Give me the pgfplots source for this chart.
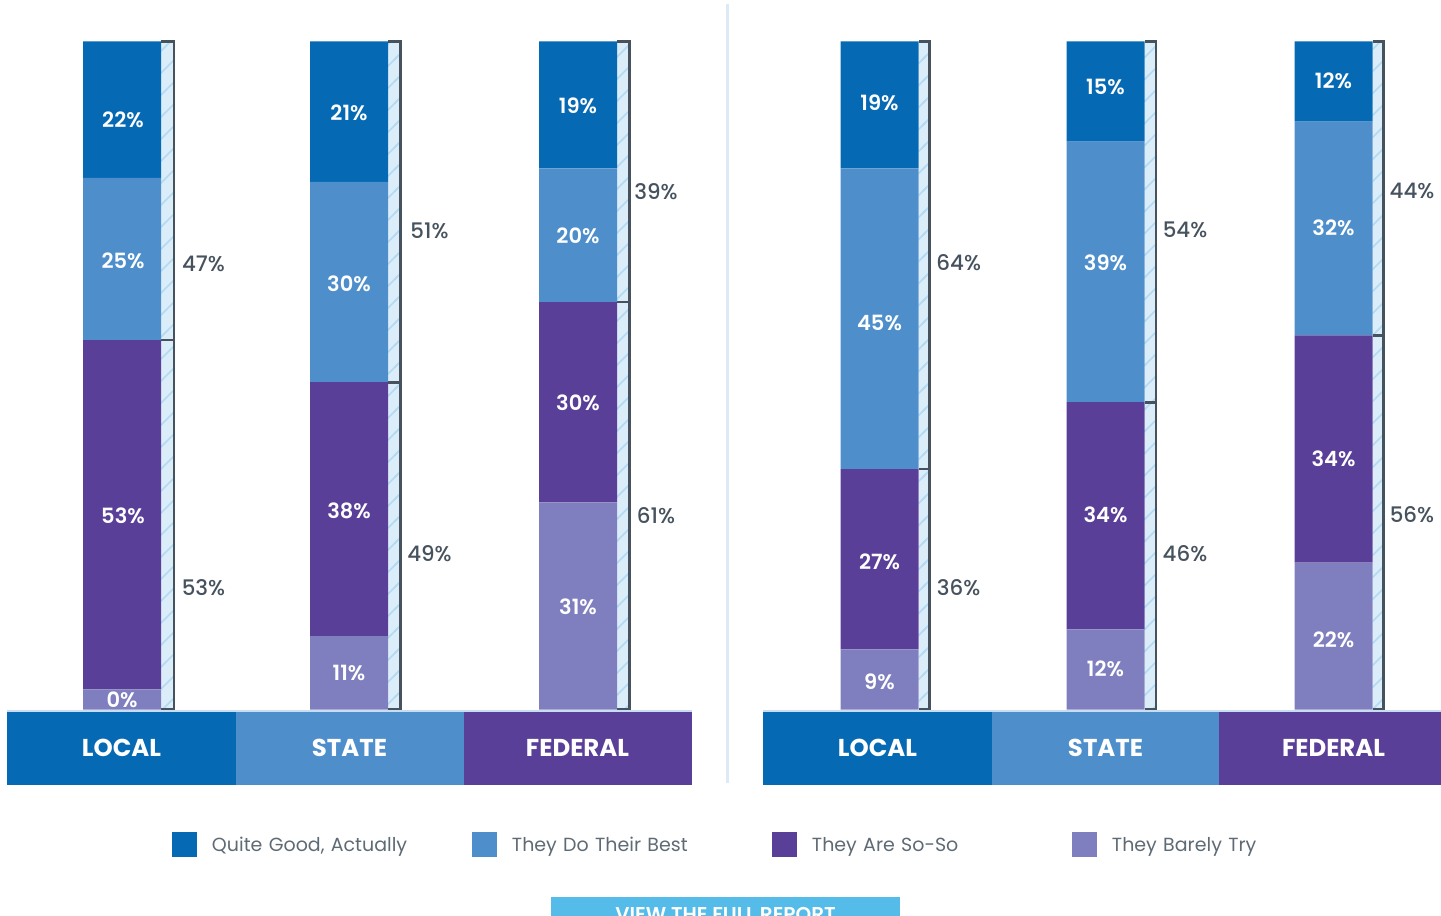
\documentclass[border=0pt]{standalone}
\usepackage{pgfplots}
\pgfplotsset{compat=1.18}
\usepackage{pgfplotstable}
\usepackage{fontspec}
\setmainfont{Poppins}
\newfontfamily\pmed{Poppins Medium}
\newfontfamily\psemi{Poppins SemiBold}
\usetikzlibrary{patterns}

\definecolor{cQG}{HTML}{0569B3}
\definecolor{cBest}{HTML}{4E8FCB}
\definecolor{cSoSo}{HTML}{5A3F98}
\definecolor{cBarely}{HTML}{7F7FBF}
\definecolor{stripbg}{HTML}{DCEDFA}
\definecolor{hatchc}{HTML}{B3DAF4}
\definecolor{slate}{HTML}{46525D}
\definecolor{labgray}{HTML}{46525D}
\definecolor{leggray}{HTML}{5E6A74}
\definecolor{sepblue}{HTML}{DCEAF8}
\definecolor{btn}{HTML}{55BBE8}
\definecolor{boxline}{HTML}{C6DDF2}

\pgfdeclarepatternformonly{hatchlines}{\pgfpoint{-1pt}{-1pt}}{\pgfpoint{12pt}{12pt}}{\pgfpoint{11pt}{11pt}}{%
  \pgfsetlinewidth{0.8pt}%
  \pgfpathmoveto{\pgfpoint{-1pt}{-1pt}}%
  \pgfpathlineto{\pgfpoint{12pt}{12pt}}%
  \pgfusepath{stroke}}

% bar centre (pixels), then drawn shares in percent, bottom to top
\pgfplotstableread{
x      qg   best soso barely
122    20.4 24.3 52.3 3.0
349    21   30   38   11
578    19   20   30   31
879.5  19   45   27   9
1105.5 15   39   34   12
1333.5 12   32   34   22
}\survey

\begin{document}
\begin{tikzpicture}
\pgfplotsset{base/.style={at={(0,0)}, anchor=north west, scale only axis,
  width=720.5pt, height=458pt, xmin=0, xmax=1441, ymin=-30.91, ymax=106.21,
  hide axis, clip=false}}

% strips and brackets
\begin{axis}[base]
  \foreach \xl/\xr in {161/174, 388/400.8, 617/629.4, 918.5/929.2, 1144.5/1156, 1372.5/1383.8}{
    \edef\tmp{\noexpand\fill[stripbg, postaction={pattern=hatchlines, pattern color=hatchc}]
      (axis cs:\xl,0) rectangle (axis cs:\xr,100);}\tmp
  }
  \addplot[slate, line width=1.35pt, unbounded coords=jump, line join=miter] coordinates {
    (161,100)(174,100)(174,0)(161,0)(161,nan)(161,55.3)(174,55.3)(174,nan)
    (388,100)(400.8,100)(400.8,0)(388,0)(388,nan)(388,49)(400.8,49)(400.8,nan)
    (617,100)(629.4,100)(629.4,0)(617,0)(617,nan)(617,61)(629.4,61)(629.4,nan)
    (918.5,100)(929.2,100)(929.2,0)(918.5,0)(918.5,nan)(918.5,36)(929.2,36)(929.2,nan)
    (1144.5,100)(1156,100)(1156,0)(1144.5,0)(1144.5,nan)(1144.5,46)(1156,46)(1156,nan)
    (1372.5,100)(1383.8,100)(1383.8,0)(1372.5,0)(1372.5,nan)(1372.5,56)(1383.8,56)
  };
\end{axis}

% stacked bars and legend
\begin{axis}[base, ybar stacked, bar width=39pt,
  legend columns=4, reverse legend, legend cell align=left,
  legend image code/.code={\fill[#1] (0pt,-6.25pt) rectangle (12.5pt,6.25pt);},
  legend style={at={(axis description cs:0.11936,0.07806)}, anchor=west,
    draw=none, fill=none, inner sep=0pt, outer sep=0pt, column sep=0pt,
    font=\fontsize{9.5}{12}\selectfont, text=leggray,
    nodes={text height=6.7pt, text depth=0pt, inner ysep=0pt, inner xsep=7.5pt,
      text width=122.5pt, align=left}}]
  \addplot[fill=cBarely, draw=none] table[x=x, y=barely]{\survey};
  \addlegendentry{They Barely Try}
  \addplot[fill=cSoSo, draw=none] table[x=x, y=soso]{\survey};
  \addlegendentry{They Are So-So}
  \addplot[fill=cBest, draw=none] table[x=x, y=best]{\survey};
  \addlegendentry{They Do Their Best}
  \addplot[fill=cQG, draw=none] table[x=x, y=qg]{\survey};
  \addlegendentry{Quite Good, Actually}
\end{axis}

\begin{scope}[x=0.5pt, y=-0.5pt]
  % separator
  \fill[sepblue] (725.5,4) rectangle (728.5,783);
  % category boxes
  \fill[boxline] (7,709.5) rectangle (692,712);
  \fill[boxline] (763,709.5) rectangle (1441,712);
  \fill[cQG] (7,712) rectangle (236,785);
  \fill[cBest] (236,712) rectangle (464,785);
  \fill[cSoSo] (464,712) rectangle (692,785);
  \fill[cQG] (763,712) rectangle (992,785);
  \fill[cBest] (992,712) rectangle (1219,785);
  \fill[cSoSo] (1219,712) rectangle (1441,785);
  \tikzset{cat/.style={text=white, inner sep=0pt, font=\bfseries\fontsize{12.2}{14}\selectfont},
    seg/.style={text=white, inner sep=0pt, font=\psemi\fontsize{10.5}{12}\selectfont},
    grp/.style={text=labgray, inner sep=0pt, font=\pmed\fontsize{10.7}{12}\selectfont}}
  \node[cat] at (121.5,748.3) {LOCAL};
  \node[cat] at (349.5,748.3) {STATE};
  \node[cat] at (577.5,748.3) {FEDERAL};
  \node[cat] at (877.5,748.3) {LOCAL};
  \node[cat] at (1105.5,748.3) {STATE};
  \node[cat] at (1333.5,748.3) {FEDERAL};
  % segment labels
  \node[seg] at (123,120.3) {22\%};
  \node[seg] at (123,260.4) {25\%};
  \node[seg] at (123,515.9) {53\%};
  \node[seg] at (122,699.6) {0\%};
  \node[seg] at (349,112.8) {21\%};
  \node[seg] at (349,284.2) {30\%};
  \node[seg] at (349,511) {38\%};
  \node[seg] at (349,673.2) {11\%};
  \node[seg] at (578,105.8) {19\%};
  \node[seg] at (578,235.7) {20\%};
  \node[seg] at (578,403.1) {30\%};
  \node[seg] at (578,607.1) {31\%};
  \node[seg] at (879.5,102.7) {19\%};
  \node[seg] at (879.5,323) {45\%};
  \node[seg] at (879.5,561.7) {27\%};
  \node[seg] at (879.5,682) {9\%};
  \node[seg] at (1105.5,87.3) {15\%};
  \node[seg] at (1105.5,262.6) {39\%};
  \node[seg] at (1105.5,515) {34\%};
  \node[seg] at (1105.5,669.2) {12\%};
  \node[seg] at (1333.5,80.7) {12\%};
  \node[seg] at (1333.5,227.4) {32\%};
  \node[seg] at (1333.5,458.6) {34\%};
  \node[seg] at (1333.5,639.7) {22\%};
  % group labels
  \node[grp] at (203.5,263.5) {47\%};
  \node[grp] at (203.5,587.3) {53\%};
  \node[grp] at (429.5,230.4) {51\%};
  \node[grp] at (429.5,553.3) {49\%};
  \node[grp] at (656,191.7) {39\%};
  \node[grp] at (656,515.5) {61\%};
  \node[grp] at (958.7,262.6) {64\%};
  \node[grp] at (958.7,587.3) {36\%};
  \node[grp] at (1185,229.6) {54\%};
  \node[grp] at (1185,553.3) {46\%};
  \node[grp] at (1412,191.2) {44\%};
  \node[grp] at (1412,514.6) {56\%};
  % button
  \fill[btn] (551,897) rectangle (900,940);
  \node[text=white, inner sep=0pt, anchor=base, font=\psemi\fontsize{10}{12}\selectfont] at (725.5,921) {VIEW THE FULL REPORT};
\end{scope}
\pgfresetboundingbox
\useasboundingbox (0,0) rectangle (720.5pt,-458pt);
\end{tikzpicture}
\end{document}
